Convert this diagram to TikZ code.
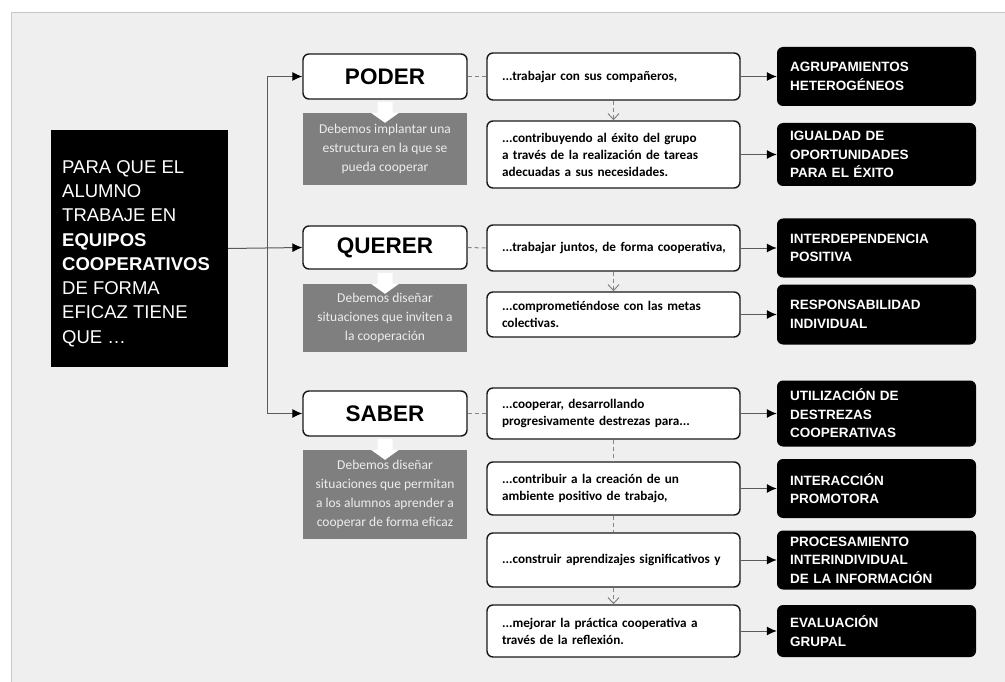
\documentclass[tikz,border=0pt]{standalone}
\usepackage{fontspec}
\setmainfont{Liberation Sans}
\newfontfamily\carl{Carlito}
\usetikzlibrary{arrows.meta}

\definecolor{bgpanel}{HTML}{EFEFEF}
\definecolor{framegray}{HTML}{C8C8C8}
\definecolor{notegray}{HTML}{7F7F7F}
\definecolor{notetext}{HTML}{EDEDED}
\definecolor{wire}{HTML}{5A5A5A}
\definecolor{dashgray}{HTML}{858585}

\begin{document}
\begin{tikzpicture}[x=1pt,y=-1pt,
  leadbox/.style={fill=black, minimum width=177pt, minimum height=237pt, inner sep=0pt},
  leadtext/.style={text=white, align=left, inner sep=0pt, anchor=north west,
    font=\fontsize{18.5}{24.3}\selectfont},
  catbox/.style={draw=black!90, line width=1.4pt, rounded corners=6pt, fill=white,
    minimum width=164pt, inner sep=0pt, font=\fontsize{22.5}{26}\selectfont\bfseries},
  notebox/.style={fill=notegray, minimum width=164pt, inner sep=0pt, align=center,
    text=notetext, font=\carl\fontsize{13.5}{18.8}\selectfont},
  notearrow/.style={fill=white},
  actbox/.style={draw=black!90, line width=1.4pt, rounded corners=6pt, fill=white,
    minimum width=253pt, text width=223pt, inner xsep=15pt, inner ysep=0pt, align=left,
    font=\carl\bfseries\fontsize{13.2}{17}\selectfont},
  keybox/.style={fill=black, rounded corners=6pt, minimum width=199pt, text width=173pt,
    inner xsep=13pt, inner ysep=0pt, align=left, text=white,
    font=\bfseries\fontsize{13.5}{18.5}\selectfont},
  feed/.style={draw=wire, line width=1pt, -{Latex[length=10pt,width=9pt,color=black]}},
  dashlink/.style={draw=dashgray, line width=1pt, dash pattern=on 4pt off 3pt},
  dashflow/.style={dashlink, -{Straight Barb[length=6pt,width=11pt,line width=1pt]}},
]
\clip (0,0) rectangle (1005,682);
\fill[white] (0,0) rectangle (1005,682);
\draw[draw=framegray, line width=1.5pt, fill=bgpanel] (11.5,12.5) rectangle (1020,700);

% ---- central statement ----
\node[leadbox] (lead) at (139.5,248.5) {};
\node[leadtext] (leadtxt) at (62,160) {PARA QUE EL\\ALUMNO\\TRABAJE EN\\\textbf{EQUIPOS}\\\textbf{COOPERATIVOS}\\DE FORMA\\EFICAZ TIENE\\QUE \ldots};

% ---- the three conditions ----
\node[catbox, minimum height=45pt] (poder) at (385,76.5) {PODER};
\node[catbox, minimum height=43pt] (querer) at (385,247.5) {QUERER};
\node[catbox, minimum height=45pt] (saber) at (385,413.5) {SABER};

\node[notebox, minimum height=72pt] (np) at (385,149) {Debemos implantar una\\estructura en la que se\\pueda cooperar};
\node[notebox, minimum height=68pt] (nq) at (385,318) {Debemos diseñar\\situaciones que inviten a\\la cooperación};
\node[notebox, minimum height=89pt] (ns) at (385,494.5) {Debemos diseñar\\situaciones que permitan\\a los alumnos aprender a\\cooperar de forma eficaz};

\foreach \n in {np,nq,ns}{
  \fill[notearrow, shift={(\n.north)}] (-7.5,-11) -- (7.5,-11) -- (7.5,0) -- (14,0)
    -- (0,10) -- (-14,0) -- (-7.5,0) -- cycle;
}

% ---- branching from the statement ----
\coordinate (hub) at (267,248);
\draw[feed] (lead.east) -- (querer.west);
\draw[feed] (hub) |- (poder.west);
\draw[feed] (hub) |- (saber.west);

% ---- actions ----
\node[actbox, minimum height=47pt] (a1) at (613.5,76.5) {\mbox{...trabajar con sus compañeros,}};
\node[actbox, minimum height=67pt] (a2) at (613.5,154.5) {\mbox{...contribuyendo al éxito del grupo}\\\mbox{a través de la realización de tareas}\\\mbox{adecuadas a sus necesidades.}};
\node[actbox, minimum height=46pt] (a3) at (613.5,248) {\mbox{...trabajar juntos, de forma cooperativa,}};
\node[actbox, minimum height=45pt] (a4) at (613.5,314.5) {\mbox{...comprometiéndose con las metas}\\\mbox{colectivas.}};
\node[actbox, minimum height=51pt] (a5) at (613.5,413.5) {\mbox{...cooperar, desarrollando}\\\mbox{progresivamente destrezas para...}};
\node[actbox, minimum height=53pt] (a6) at (613.5,488.5) {\mbox{...contribuir a la creación de un}\\\mbox{ambiente positivo de trabajo,}};
\node[actbox, minimum height=54pt] (a7) at (613.5,560) {\mbox{...construir aprendizajes significativos y}};
\node[actbox, minimum height=52pt] (a8) at (613.5,631) {\mbox{...mejorar la práctica cooperativa a}\\\mbox{través de la reflexión.}};

% ---- key elements ----
\node[keybox, minimum height=59pt] (k1) at (876.5,76.5) {AGRUPAMIENTOS\\HETEROGÉNEOS};
\node[keybox, minimum height=63pt] (k2) at (876.5,154.5) {IGUALDAD DE\\OPORTUNIDADES\\PARA EL ÉXITO};
\node[keybox, minimum height=59pt] (k3) at (876.5,248) {INTERDEPENDENCIA\\POSITIVA};
\node[keybox, minimum height=60pt] (k4) at (876.5,314.5) {RESPONSABILIDAD\\INDIVIDUAL};
\node[keybox, minimum height=66pt] (k5) at (876.5,413.5) {UTILIZACIÓN DE\\DESTREZAS\\COOPERATIVAS};
\node[keybox, minimum height=59pt] (k6) at (876.5,488.5) {INTERACCIÓN\\PROMOTORA};
\node[keybox, minimum height=59pt] (k7) at (876.5,560) {PROCESAMIENTO\\INTERINDIVIDUAL\\DE LA INFORMACIÓN};
\node[keybox, minimum height=52pt] (k8) at (876.5,631) {EVALUACIÓN\\GRUPAL};

% ---- conditions to actions ----
\draw[dashlink] (poder.east) -- (a1.west);
\draw[dashlink] (querer.east) -- (a3.west);
\draw[dashlink] (saber.east) -- (a5.west);

\draw[dashflow] (a1.south) -- (a2.north);
\draw[dashflow] (a3.south) -- (a4.north);
\draw[dashlink] (a5.south) -- (a6.north);
\draw[dashlink] (a6.south) -- (a7.north);
\draw[dashflow] (a7.south) -- (a8.north);

% ---- actions to key elements ----
\foreach \i in {1,...,8}{
  \draw[feed] (a\i.east) -- (a\i.east -| k\i.west);
}
\end{tikzpicture}
\end{document}
